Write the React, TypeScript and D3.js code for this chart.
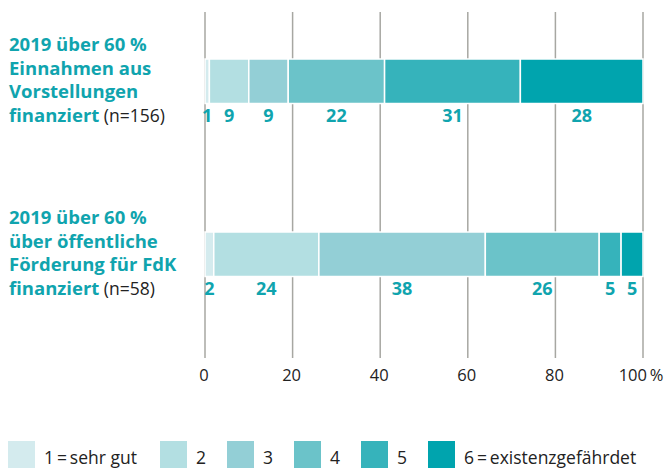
import React from "react";
import * as d3 from "d3";

const categories = [
  ["2019 über 60 %", "Einnahmen aus", "Vorstellungen", "finanziert"],
  ["2019 über 60 %", "über öffentliche", "Förderung für FdK", "finanziert"],
];
const sampleSizes = ["(n=156)", "(n=58)"];
const series1 = [1, 9, 9, 22, 31, 28];
const series2 = [2, 24, 38, 26, 5, 5];
const seriesValues = [series1, series2];
const legendLabels = ["1\u2009=\u2009sehr gut", "2", "3", "4", "5", "6\u2009=\u2009existenzgefährdet"];
const tickValues = [0, 20, 40, 60, 80, 100];
const colors = ["#d4ebee", "#b3dfe2", "#93cfd6", "#6bc3c9", "#36b3bb", "#00a4ae"];

const W = 669;
const H = 469;
const FONT = "'Open Sans', sans-serif";
const TEAL = "#10a4ae";

export default function App() {
  const x = d3.scaleLinear().domain([0, 100]).range([205, 643]);
  const barTop = (i: number) => 59 + i * 173;
  const barH = 44.5;
  const legendX = [8, 160, 227, 294, 361, 428];

  return (
    <svg width={W} height={H} style={{ position: "absolute", left: 0, top: 0, fontFamily: FONT }}>
      <rect width={W} height={H} fill="#fff" />
      {tickValues.map((t) => (
        <line key={t} x1={x(t)} x2={x(t)} y1={12} y2={358} stroke="#a7a7a2" strokeWidth={1.5} />
      ))}
      {tickValues.map((t) => (
        <text key={"t" + t} x={x(t) + (t === 100 ? -2 : -1)} y={381} fontSize={16.5} fill="#222" textAnchor="middle">
          {t === 100 ? "100\u2009%" : t}
        </text>
      ))}
      {seriesValues.map((vals, i) => {
        const stack = d3.cumsum(vals);
        const top = barTop(i);
        return (
          <g key={i}>
            {vals.map((v, j) => {
              const x0 = x(stack[j] - v);
              const x1 = x(stack[j]);
              return (
                <rect key={j} x={x0} y={top} width={x1 - x0} height={barH} fill={colors[j]} stroke="#fff" strokeWidth={1.5} />
              );
            })}
            {vals.map((v, j) => (
              <text key={"l" + j} x={x(stack[j] - v / 2)} y={top + 63} fontSize={18} fontWeight="bold" fill={TEAL} textAnchor="middle">
                {v}
              </text>
            ))}
            <text x={9} y={top - 8} fontSize={18.5} fontWeight="bold" fill={TEAL}>
              {categories[i].map((line, k) => (
                <tspan key={k} x={9} dy={k === 0 ? 0 : 23.7}>
                  {line}
                  {k === categories[i].length - 1 ? (
                    <tspan fontWeight="normal" fontSize={17.5} fill="#222">{" " + sampleSizes[i]}</tspan>
                  ) : null}
                </tspan>
              ))}
            </text>
          </g>
        );
      })}
      {legendLabels.map((l, j) => (
        <g key={"lg" + j}>
          <rect x={legendX[j]} y={441} width={27} height={27} fill={colors[j]} />
          <text x={legendX[j] + 36} y={463.5} fontSize={17.5} fill="#222">
            {l}
          </text>
        </g>
      ))}
    </svg>
  );
}
